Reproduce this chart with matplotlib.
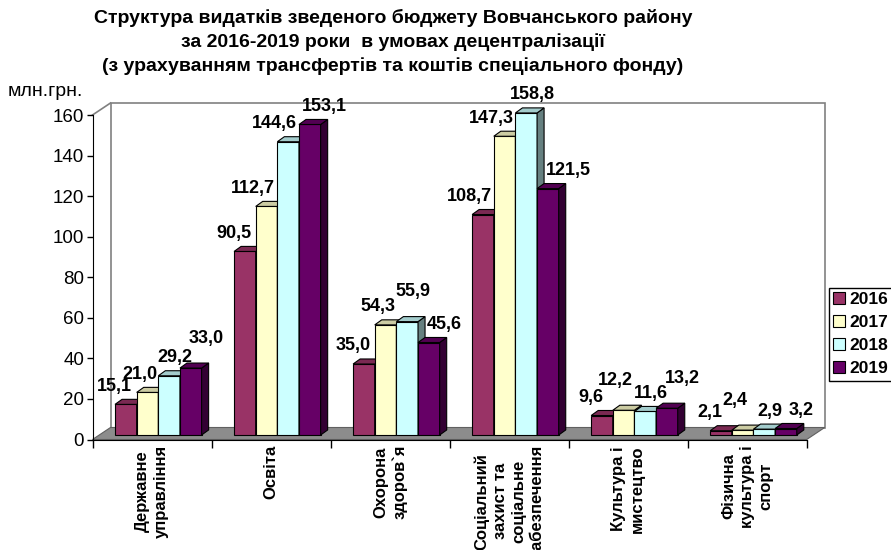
import matplotlib
matplotlib.use('Agg')
import matplotlib.pyplot as plt
from matplotlib.patches import Polygon, Patch
from matplotlib.transforms import Bbox
import numpy as np

plt.rcParams['font.family'] = ['Liberation Sans', 'DejaVu Sans']

# категорії видатків
categories = ['Державне\nуправління', 'Освіта', 'Охорона\nздоров`я',
              'Соціальний\nзахист та\nсоціальне\nзабезпечення',
              'Культура і\nмистецтво', 'Фізична\nкультура і\nспорт']
years = ['2016', '2017', '2018', '2019']
# значення, млн.грн.
v2016 = [15.1, 90.5, 35.0, 108.7, 9.6, 2.1]
v2017 = [21.0, 112.7, 54.3, 147.3, 12.2, 2.4]
v2018 = [29.2, 144.6, 55.9, 158.8, 11.6, 2.9]
v2019 = [33.0, 153.1, 45.6, 121.5, 13.2, 3.2]
series = [v2016, v2017, v2018, v2019]

front_colors = ['#993366', '#FFFFCC', '#CCFFFF', '#660066']
top_colors = ['#7A2952', '#CCCCA3', '#A3CCCC', '#520052']
side_colors = ['#4D1A33', '#808066', '#668080', '#330033']
# зсув підписів по горизонталі (px) для кожного року
label_nudge = [-11, -8, 6, 15]

W, H = 891, 550
fig = plt.figure(figsize=(W / 100, H / 100), dpi=100)
# передня площина осей у пікселях
x0, x1, ytop, ybot = 92.5, 806.7, 115, 439.5
ax = fig.add_axes([x0 / W, 1 - ybot / H, (x1 - x0) / W, (ybot - ytop) / H])
n = len(categories)
ax.set_xlim(0, n)
ax.set_ylim(0, 160)

px_x = (x1 - x0) / n
px_y = (ybot - ytop) / 160.0
# глибина "3D" у одиницях даних
ddx, ddy = 18 / px_x, 12 / px_y

# стіни та підлога
back = Polygon([(ddx, ddy), (n + ddx, ddy), (n + ddx, 160 + ddy), (ddx, 160 + ddy)],
               closed=True, facecolor='white', edgecolor='#808080', lw=1.2,
               clip_on=False, zorder=0)
ax.add_patch(back)
ax.plot([0, ddx], [160, 160 + ddy], color='#808080', lw=1.2, clip_on=False, zorder=0.5)
floor = Polygon([(0, 0), (n, 0), (n + ddx, ddy), (ddx, ddy)], closed=True,
                facecolor='#8C8C8C', edgecolor='#606060', lw=0.8, clip_on=False, zorder=1)
ax.add_patch(floor)

x = np.arange(n)
bw = 1 / 5.5
start = 0.75 / 5.5
fx, fy = 0.35 * ddx, 0.375 * ddy   # зсув передньої грані стовпця
bdx, bdy = 0.39 * ddx, 0.42 * ddy  # глибина стовпця

bar_parts = [[None] * 4 for _ in range(n)]
labels = [[None] * 4 for _ in range(n)]
for k, vals in enumerate(series):
    bars = ax.bar(x + fx + start + k * bw, vals, bw, bottom=fy, align='edge',
                  color=front_colors[k], edgecolor='black', linewidth=0.8,
                  zorder=2 + k, clip_on=False, label=years[k])
    for i, (r, v) in enumerate(zip(bars, vals)):
        bx, by, w, h = r.get_x(), r.get_y(), r.get_width(), r.get_height()
        top = Polygon([(bx, by + h), (bx + w, by + h), (bx + w + bdx, by + h + bdy),
                       (bx + bdx, by + h + bdy)], closed=True, facecolor=top_colors[k],
                      edgecolor='black', lw=0.8, zorder=2 + k, clip_on=False)
        side = Polygon([(bx + w, by), (bx + w + bdx, by + bdy), (bx + w + bdx, by + h + bdy),
                        (bx + w, by + h)], closed=True, facecolor=side_colors[k],
                       edgecolor='black', lw=0.8, zorder=2 + k, clip_on=False)
        ax.add_patch(side)
        ax.add_patch(top)
        bar_parts[i][k] = (r, side, top)
        labels[i][k] = ax.annotate(f'{v:.1f}'.replace('.', ','), (bx + w / 2, by + h),
                                   xytext=(label_nudge[k] * 0.72, 13),
                                   textcoords='offset points', ha='center', va='center',
                                   fontsize=13, fontweight='bold', zorder=20,
                                   annotation_clip=False)

# осі
for s in ['top', 'right']:
    ax.spines[s].set_visible(False)
ax.spines['left'].set_zorder(15)
ax.spines['bottom'].set_zorder(15)
ax.set_yticks(np.arange(0, 161, 20))
ax.tick_params(axis='y', direction='out', length=4, width=1, labelsize=13.5, pad=2)
ax.set_xticks(np.arange(0, n + 1))
ax.set_xticklabels([])
ax.tick_params(axis='x', which='major', direction='out', length=6, width=1)
ax.set_xticks(x + 0.5, minor=True)
ax.set_xticklabels(categories, minor=True, rotation=90, fontsize=12, fontweight='bold',
                   multialignment='center', linespacing=1.3)
ax.tick_params(axis='x', which='minor', length=0, pad=4)

# розсунути підписи, щоб не налазили на сусідні стовпці та один на одного
fig.canvas.draw()
rend = fig.canvas.get_renderer()
PT = 0.72  # px -> pt при dpi=100
for i in range(n):
    for k in range(4):
        t = labels[i][k]
        for j in (k - 1, k + 1):
            if j < 0 or j > 3:
                continue
            bb = Bbox.union([p.get_window_extent(rend) for p in bar_parts[i][j]])
            tb = t.get_window_extent(rend)
            if tb.y0 + 4 < bb.y1 and tb.x1 > bb.x0 and tb.x0 < bb.x1:
                dx_, dy_ = t.xyann
                if j > k:
                    shift = -(tb.x1 - bb.x0 + 2)
                else:
                    shift = bb.x1 - tb.x0 + 2
                t.xyann = (dx_ + shift * PT, dy_)
    for k in range(1, 4):
        t, prev = labels[i][k], labels[i][k - 1]
        tb, pb = t.get_window_extent(rend), prev.get_window_extent(rend)
        x_hit = tb.x0 < pb.x1 + 1
        y_hit = (tb.y0 + 3) < (pb.y1 - 3) and (pb.y0 + 3) < (tb.y1 - 3)
        if x_hit and y_hit:
            dx_, dy_ = t.xyann
            t.xyann = (dx_, dy_ + 12 * PT)

# заголовок
title_lines = ['Структура видатків зведеного бюджету Вовчанського району',
               'за 2016-2019 роки  в умовах децентралізації',
               '(з урахуванням трансфертів та коштів спеціального фонду)']
for i, t in enumerate(title_lines):
    fig.text(393 / W, 1 - (18 + 24 * i) / H, t, ha='center', va='center',
             fontsize=14, fontweight='bold')
fig.text(8 / W, 1 - 91 / H, 'млн.грн.', ha='left', va='center', fontsize=14)

handles = [Patch(facecolor=front_colors[k], edgecolor='black', lw=0.8) for k in range(4)]
fig.legend(handles, years, loc='upper left', bbox_to_anchor=(829 / W, 1 - 288 / H),
           frameon=True, fancybox=False, edgecolor='black', framealpha=1,
           prop={'weight': 'bold', 'size': 12.5}, handlelength=0.7, handleheight=0.7,
           handletextpad=0.25, labelspacing=0.45, borderpad=0.25, borderaxespad=0)

fig.savefig('out.png', dpi=100)
